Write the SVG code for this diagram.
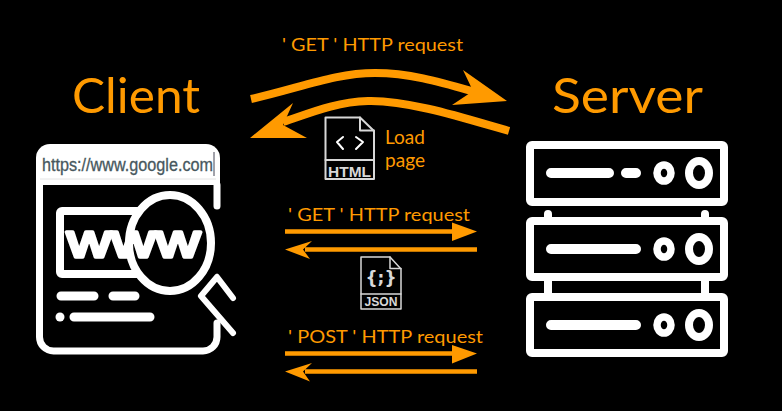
<svg xmlns="http://www.w3.org/2000/svg" width="782" height="411" viewBox="0 0 782 411">
<style>
.o{font-family:"Lato","Noto Sans",sans-serif;fill:#ff9a00}
.w{fill:none;stroke:#fff;stroke-linecap:round;stroke-linejoin:round}
.ic{fill:none;stroke:#d8d8d8;stroke-linejoin:round;stroke-linecap:round}
.fl{fill:#ff9a00}
.ln{fill:none;stroke:#ff9a00}
</style>
<rect width="782" height="411" fill="#000"/>
<g id="client-label"><text class="o" x="72" y="113" font-size="49" textLength="128" lengthAdjust="spacingAndGlyphs">Client</text></g>
<g id="server-label"><text class="o" x="552" y="113" font-size="49" textLength="151" lengthAdjust="spacingAndGlyphs">Server</text></g>
<g id="client">
<path d="M36,185V158a14,14 0 0 1 14,-14H206a14,14 0 0 1 14,14V185Z" fill="#fff"/>
<path d="M39.500,185V337a14,14 0 0 0 14,14H203a14,14 0 0 0 14,-14V323" class="w" stroke-width="7"/>
<path d="M217,185V206" class="w" stroke-width="7"/>
<path d="M40,179H216" stroke="#e4e4e4" stroke-width="1"/>
<text x="42" y="171" font-family="'Liberation Sans',sans-serif" font-size="17.500" fill="#47585e" stroke="#47585e" stroke-width="0.300" textLength="171" lengthAdjust="spacingAndGlyphs">https://www.google.com</text>
<path d="M214,152V176" stroke="#445" stroke-width="1"/>
<rect x="60" y="211" width="110" height="63" rx="2" class="w" stroke-width="8"/>
<ellipse cx="170" cy="243" rx="41" ry="48" fill="#000" stroke="#fff" stroke-width="8"/>
<text x="67" y="257" font-family="'Liberation Sans',sans-serif" font-size="47" fill="#fff" stroke="#fff" stroke-width="3.500" stroke-linejoin="round" textLength="133" lengthAdjust="spacingAndGlyphs">www</text>
<path d="M201,296L233,333M217,277L233,298M201,296L217,277" class="w" stroke-width="6"/>
<path d="M61,296H94M113,296H135M74,317H150" class="w" stroke-width="9"/>
<circle cx="60" cy="317" r="4.500" fill="#fff"/>
</g>
<g id="server">
<rect x="530" y="145" width="194" height="57" rx="2" class="w" stroke-width="8"/>
<rect x="530" y="221" width="194" height="56" rx="2" class="w" stroke-width="8"/>
<rect x="530" y="297" width="194" height="56" rx="2" class="w" stroke-width="8"/>
<path d="M548,214V217M705,214V217" class="w" stroke-width="8"/>
<path d="M548,281V293M705,281V293" stroke="#fff" stroke-width="8"/>
<path d="M551,173H609M626,173H636M551,249H636M551,325H636" class="w" stroke-width="10"/>
<g fill="none" stroke="#fff">
<ellipse cx="664" cy="173" rx="7" ry="8" stroke-width="7.500"/>
<ellipse cx="699" cy="173" rx="10" ry="12" stroke-width="8"/>
<ellipse cx="664" cy="249" rx="7" ry="8" stroke-width="7.500"/>
<ellipse cx="699" cy="249" rx="10" ry="12" stroke-width="8"/>
<ellipse cx="664" cy="325" rx="7" ry="8" stroke-width="7.500"/>
<ellipse cx="699" cy="325" rx="10" ry="12" stroke-width="8"/>
</g>
</g>
<g id="html-file">
<path d="M325.500,117.500H360L374,131V179H325.500Z" class="ic" stroke-width="2"/>
<path d="M360,117.500V130.500H374M325.500,160H374" class="ic" stroke-width="2"/>
<path d="M343,137L337,142L343,149M356,137L363,142L356,149" class="w" stroke-width="2"/>
<text x="349.500" y="177" text-anchor="middle" font-family="'Liberation Sans',sans-serif" font-weight="700" font-size="15" fill="#d8d8d8" textLength="43" lengthAdjust="spacingAndGlyphs">HTML</text>
</g>
<g id="json-file">
<path d="M361,257H390L401,269V309H361Z" class="ic" stroke-width="1.500"/>
<path d="M390,257V268.500H401M361,294H401" class="ic" stroke-width="1.500"/>
<text x="381" y="284" text-anchor="middle" font-family="'DejaVu Sans',sans-serif" font-weight="700" font-size="17" fill="#d8d8d8">{;}</text>
<text x="381" y="306" text-anchor="middle" font-family="'Liberation Sans',sans-serif" font-weight="700" font-size="12" fill="#d8d8d8" textLength="33" lengthAdjust="spacingAndGlyphs">JSON</text>
</g>
<g id="labels">
<text class="o" x="282" y="51" font-size="18" textLength="181" lengthAdjust="spacingAndGlyphs">' GET ' HTTP request</text>
<text class="o" x="385" y="144" font-size="19" textLength="40" lengthAdjust="spacingAndGlyphs">Load</text>
<text class="o" x="385" y="167" font-size="19" textLength="40" lengthAdjust="spacingAndGlyphs">page</text>
<text class="o" x="288" y="221" font-size="18" textLength="182" lengthAdjust="spacingAndGlyphs">' GET ' HTTP request</text>
<text class="o" x="288" y="343" font-size="18" textLength="195" lengthAdjust="spacingAndGlyphs">' POST ' HTTP request</text>
</g>
<g id="connectors">
<path d="M251,99C300,88 335,73 375,73C410,73 440,82 475,92" class="ln" stroke-width="8"/>
<path class="fl" d="M507,101L463,70L473,91L452,105Z"/>
<path d="M509,131C470,120 410,100 368,101C335,102 310,113 283,122" class="ln" stroke-width="8"/>
<path class="fl" d="M250,138L293,103L283,125L307,138Z"/>
<path d="M285,231.500H455M477,249.500H305M285,353.500H455M477,371.500H305" class="ln" stroke-width="4.500"/>
<path class="fl" d="M477,231.500L452,222.500V241Z"/>
<path class="fl" d="M285,249.500L312,241L303,249.500L310,259Z"/>
<path class="fl" d="M477,353.500L452,345V363.500Z"/>
<path class="fl" d="M285,371.500L312,363L303,371.500L310,381.500Z"/>
</g>
</svg>
